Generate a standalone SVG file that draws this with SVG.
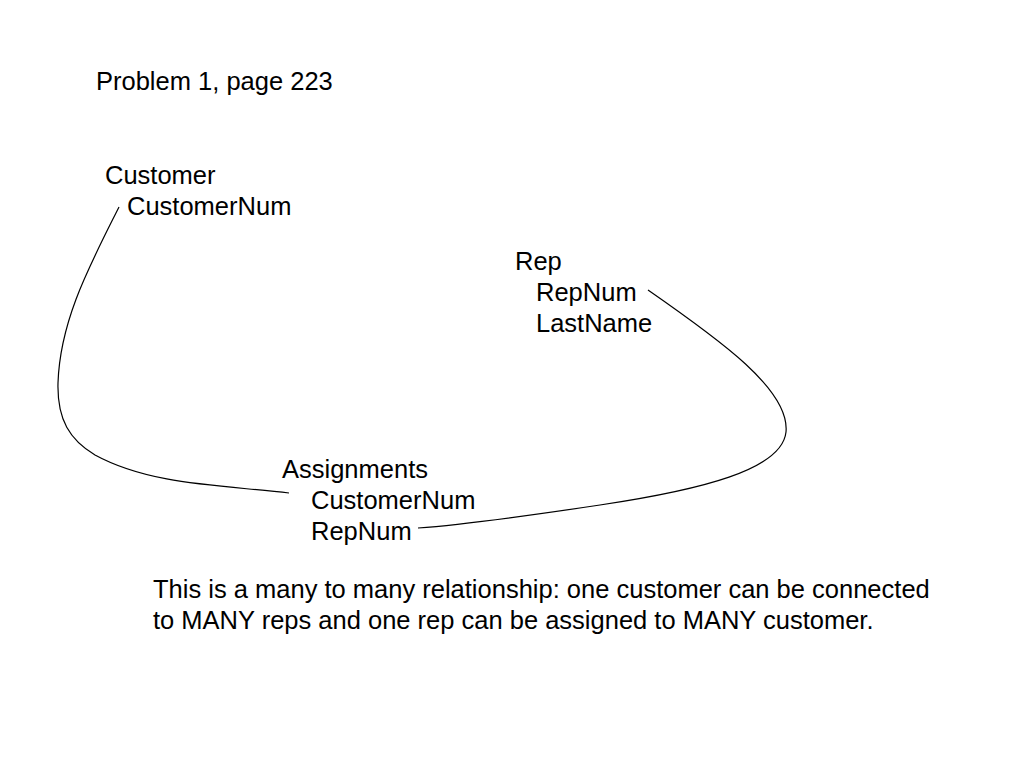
<svg xmlns="http://www.w3.org/2000/svg" width="1024" height="768" viewBox="0 0 1024 768">
<style>
text{font-family:"Liberation Sans",Arial,sans-serif;font-size:25.5px;fill:#000}
.c{fill:none;stroke:#000;stroke-width:1.2}
</style>
<rect width="1024" height="768" fill="#fff"/>
<text x="96" y="90">Problem 1, page 223</text>
<g id="customer">
<text x="105" y="184">Customer</text>
<text x="127" y="215">CustomerNum</text>
</g>
<g id="rep">
<text x="515" y="270">Rep</text>
<text x="536" y="301">RepNum</text>
<text x="536" y="332">LastName</text>
</g>
<g id="assignments">
<text x="282" y="478">Assignments</text>
<text x="311" y="509">CustomerNum</text>
<text x="311" y="540">RepNum</text>
</g>
<g id="connectors">
<path class="c" d="M119,207 C90,265 60,320 58,383 C57,420 70,440 95,455 C150,485 220,485 289,493"/>
<path class="c" d="M648,290 C720,340 790,390 786,432 C782,470 700,490 600,505 C520,517 460,525 418,528"/>
</g>
<text x="153" y="598">This is a many to many relationship: one customer can be connected</text>
<text x="153" y="629">to MANY reps and one rep can be assigned to MANY customer.</text>
</svg>
